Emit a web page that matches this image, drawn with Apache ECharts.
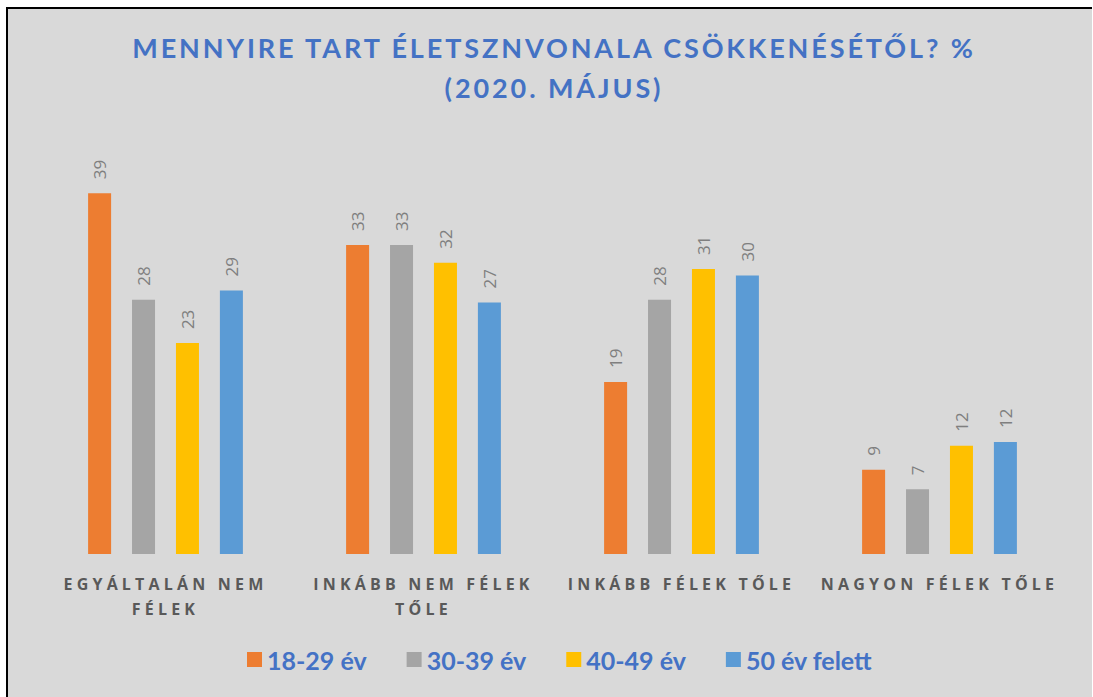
<!DOCTYPE html>
<html>
<head>
<meta charset="utf-8">
<title>Mennyire tart életsznvonala csökkenésétől?</title>
<script src="https://cdn.jsdelivr.net/npm/echarts@6/dist/echarts.min.js"></script>
<style>
  html, body { margin: 0; padding: 0; background: #fff; }
  .panel {
    position: absolute; left: 6px; top: 7px; right: 1px; bottom: 0;
    background: #d9d9d9; border-left: 2px solid #000; border-top: 2px solid #000;
  }
  #main { position: absolute; left: 0; top: 0; width: 1093px; height: 697px; }
  /* spaced caps like the original */
  #main text[fill="#4472c4"] { letter-spacing: 2.9px; }
  #main text[fill="#595959"] { letter-spacing: 4.2px; }
</style>
</head>
<body>
<div class="panel"></div>
<div id="main"></div>
<script>
// categories and series values (percent)
const categories = ['EGYÁLTALÁN NEM\nFÉLEK', 'INKÁBB NEM FÉLEK\nTŐLE', 'INKÁBB FÉLEK TŐLE', 'NAGYON FÉLEK TŐLE']
const seriesNames = ['18-29 év', '30-39 év', '40-49 év', '50 év felett']
const age18_29 = [39.0, 33.4, 18.6, 9.1]
const age30_39 = [27.5, 33.4, 27.5, 7.0]
const age40_49 = [22.8, 31.5, 30.8, 11.7]
const age50plus = [28.5, 27.2, 30.1, 12.1]
const colors = ['#ed7d31', '#a5a5a5', '#ffc000', '#5b9bd5']

const chart = echarts.init(document.getElementById('main'), null, { renderer: 'svg' })

function makeSeries(name, data, color) {
  return {
    name: name,
    type: 'bar',
    data: data,
    barWidth: 23,
    barGap: '91%',
    itemStyle: { color: color },
    label: {
      show: true,
      position: 'top',
      rotate: 90,
      align: 'left',
      verticalAlign: 'middle',
      distance: 14,
      color: '#7f7f7f',
      fontSize: 17,
      fontFamily: 'Open Sans',
      formatter: function (p) { return Math.round(p.value) }
    }
  }
}

const option = {
  animation: false,
  backgroundColor: 'transparent',
  title: {
    text: 'MENNYIRE TART ÉLETSZNVONALA CSÖKKENÉSÉTŐL? %\n(2020. MÁJUS)',
    left: 549,
    textAlign: 'center',
    top: 22,
    textStyle: {
      color: '#4472c4',
      fontFamily: 'Lato',
      fontWeight: 'bold',
      fontSize: 27,
      lineHeight: 40
    }
  },
  legend: {
    bottom: 20,
    left: 242,
    icon: 'rect',
    itemWidth: 15,
    itemHeight: 15,
    itemGap: 40,
    textStyle: {
      color: '#4472c5',
      fontFamily: 'Lato',
      fontWeight: 'bold',
      fontSize: 25
    },
    data: seriesNames
  },
  grid: { left: 36.5, right: 24.5, top: 184, bottom: 143 },
  xAxis: {
    type: 'category',
    data: categories,
    axisLine: { show: false },
    axisTick: { show: false },
    axisLabel: {
      margin: 17,
      color: '#595959',
      fontFamily: 'Open Sans',
      fontWeight: 'bold',
      fontSize: 16,
      lineHeight: 25
    }
  },
  yAxis: {
    type: 'value',
    min: 0,
    max: 40,
    show: false,
    splitLine: { show: false }
  },
  series: [
    makeSeries(seriesNames[0], age18_29, colors[0]),
    makeSeries(seriesNames[1], age30_39, colors[1]),
    makeSeries(seriesNames[2], age40_49, colors[2]),
    makeSeries(seriesNames[3], age50plus, colors[3])
  ]
}

chart.setOption(option)
</script>
</body>
</html>
